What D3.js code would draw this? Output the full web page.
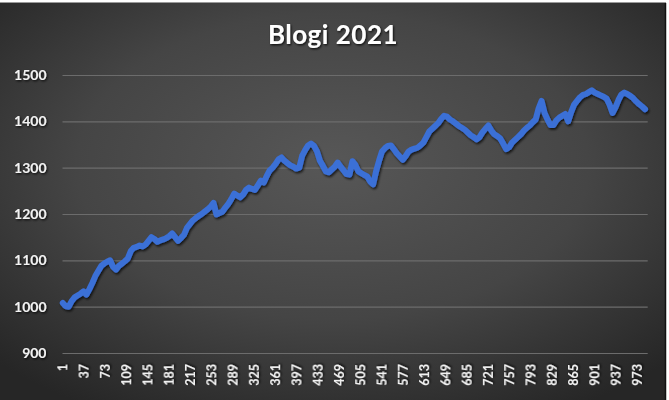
<!DOCTYPE html>
<html>
<head>
<meta charset="utf-8">
<script src="https://cdn.jsdelivr.net/npm/d3@7"></script>
<style>
  html, body { margin: 0; padding: 0; background: #ffffff; }
  svg { display: block; }
  text { font-family: Lato, "Open Sans", sans-serif; font-weight: 700; }
</style>
</head>
<body>
<svg id="chart" width="669" height="400"></svg>
<script>
// ---- data ----
const title = "Blogi 2021";
const dayCount = 990;           // categories 1..990
const sampleStep = 5;           // values below are read every 5th day, starting at day 1
const values = [
  1008,1001,1000,1012,1020,1024,1028,1033,1026,1038,
  1051,1066,1077,1088,1093,1097,1100,1086,1080,1088,
  1093,1098,1104,1120,1127,1129,1132,1130,1134,1142,
  1150,1146,1140,1143,1145,1148,1152,1158,1150,1142,
  1148,1155,1170,1178,1186,1191,1196,1200,1205,1210,
  1216,1224,1199,1202,1205,1214,1222,1232,1244,1240,
  1236,1242,1252,1257,1254,1252,1262,1272,1268,1282,
  1294,1300,1308,1318,1322,1315,1310,1305,1302,1298,
  1300,1326,1338,1348,1352,1347,1335,1315,1304,1292,
  1290,1296,1302,1311,1302,1294,1286,1285,1314,1306,
  1292,1288,1284,1281,1270,1264,1292,1315,1335,1342,
  1347,1348,1340,1331,1324,1317,1325,1335,1339,1341,
  1343,1348,1354,1366,1378,1384,1390,1396,1405,1412,
  1410,1404,1400,1395,1390,1386,1382,1376,1370,1366,
  1361,1366,1376,1384,1391,1380,1372,1368,1363,1352,
  1340,1344,1354,1360,1366,1372,1380,1386,1391,1398,
  1404,1428,1444,1418,1404,1392,1392,1402,1408,1412,
  1416,1400,1420,1436,1444,1452,1457,1459,1463,1467,
  1462,1459,1456,1453,1449,1436,1418,1430,1446,1458,
  1462,1459,1455,1450,1443,1437,1432,1426
];
const xTickLabels = [1,37,73,109,145,181,217,253,289,325,361,397,433,469,505,541,577,613,649,685,721,757,793,829,865,901,937,973];
const yTicks = [900,1000,1100,1200,1300,1400,1500];

const series = values.map((v, i) => ({ day: 1 + i * sampleStep, value: v }));

// ---- layout ----
const svg = d3.select("#chart");
const W = 669, H = 400;
const plot = { left: 62.5, right: 647.7, top: 75, bottom: 353 };

const defs = svg.append("defs");
const grad = defs.append("radialGradient")
  .attr("id", "bg").attr("cx", "50%").attr("cy", "42%").attr("r", "70%")
  .attr("fx", "50%").attr("fy", "40%");
grad.append("stop").attr("offset", "0%").attr("stop-color", "#575757");
grad.append("stop").attr("offset", "55%").attr("stop-color", "#454545");
grad.append("stop").attr("offset", "100%").attr("stop-color", "#262626");

const tShadow = defs.append("filter").attr("id", "tshadow")
  .attr("x", "-20%").attr("y", "-20%").attr("width", "140%").attr("height", "140%");
tShadow.append("feDropShadow").attr("dx", 1).attr("dy", 1.2).attr("stdDeviation", 0.8)
  .attr("flood-color", "#000").attr("flood-opacity", 0.85);

const lShadow = defs.append("filter").attr("id", "lshadow")
  .attr("x", "-5%").attr("y", "-10%").attr("width", "110%").attr("height", "120%");
lShadow.append("feDropShadow").attr("dx", 1.2).attr("dy", 1.8).attr("stdDeviation", 1.2)
  .attr("flood-color", "#000").attr("flood-opacity", 0.7);

// chart area background (spreadsheet strip left white at top/right)
svg.append("rect").attr("x", 0).attr("y", 0).attr("width", W).attr("height", H).attr("fill", "#ffffff");
svg.append("line").attr("x1", 0).attr("x2", 666).attr("y1", 2.5).attr("y2", 2.5)
  .attr("stroke", "#9a9a9a").attr("stroke-width", 1);
svg.append("rect").attr("x", 0).attr("y", 3).attr("width", 665).attr("height", H - 3).attr("fill", "url(#bg)");
svg.append("line").attr("x1", 665.5).attr("x2", 665.5).attr("y1", 3).attr("y2", H)
  .attr("stroke", "#111").attr("stroke-width", 1.5);

// ---- scales ----
const x = d3.scaleLinear().domain([0.5, dayCount + 0.5]).range([plot.left, plot.right]);
const y = d3.scaleLinear().domain([900, 1500]).range([plot.bottom, plot.top]);

// gridlines + y labels
const yAxis = d3.axisLeft(y).tickValues(yTicks).tickSize(-(plot.right - plot.left))
  .tickPadding(16).tickFormat(d3.format("d"));
const gy = svg.append("g").attr("transform", `translate(${plot.left},0)`).call(yAxis);
gy.select(".domain").remove();
gy.selectAll(".tick line").attr("stroke", "#6c6c6c").attr("stroke-width", 1.2);
gy.selectAll(".tick text")
  .attr("fill", "#f2f2f2").attr("font-size", 14).attr("filter", "url(#tshadow)")
  .attr("font-family", "Lato, sans-serif").attr("font-weight", 700);

// x labels (rotated)
const xAxis = d3.axisBottom(x).tickValues(xTickLabels).tickSize(0).tickFormat(d3.format("d"));
const gx = svg.append("g").attr("transform", `translate(0,${plot.bottom})`).call(xAxis);
gx.select(".domain").remove();
gx.selectAll(".tick text")
  .attr("fill", "#f2f2f2").attr("font-size", 12.5).attr("filter", "url(#tshadow)")
  .attr("font-family", "Lato, sans-serif").attr("font-weight", 700)
  .attr("text-anchor", "end").attr("dy", "0.35em")
  .attr("transform", "translate(0,11) rotate(-90)")
  .attr("x", 0).attr("y", 0);

// line
const line = d3.line().x(d => x(d.day)).y(d => y(d.value)).curve(d3.curveLinear);
svg.append("path").datum(series)
  .attr("d", line)
  .attr("fill", "none")
  .attr("stroke", "#3b6fd6")
  .attr("stroke-width", 6)
  .attr("stroke-linejoin", "round")
  .attr("stroke-linecap", "round")
  .attr("filter", "url(#lshadow)");

// title
svg.append("text").attr("x", 333).attr("y", 44)
  .attr("text-anchor", "middle")
  .attr("fill", "#ffffff").attr("font-size", 26)
  .attr("font-family", "Lato, sans-serif").attr("font-weight", 700)
  .attr("letter-spacing", 0.5)
  .attr("filter", "url(#tshadow)")
  .text(title);
</script>
</body>
</html>
